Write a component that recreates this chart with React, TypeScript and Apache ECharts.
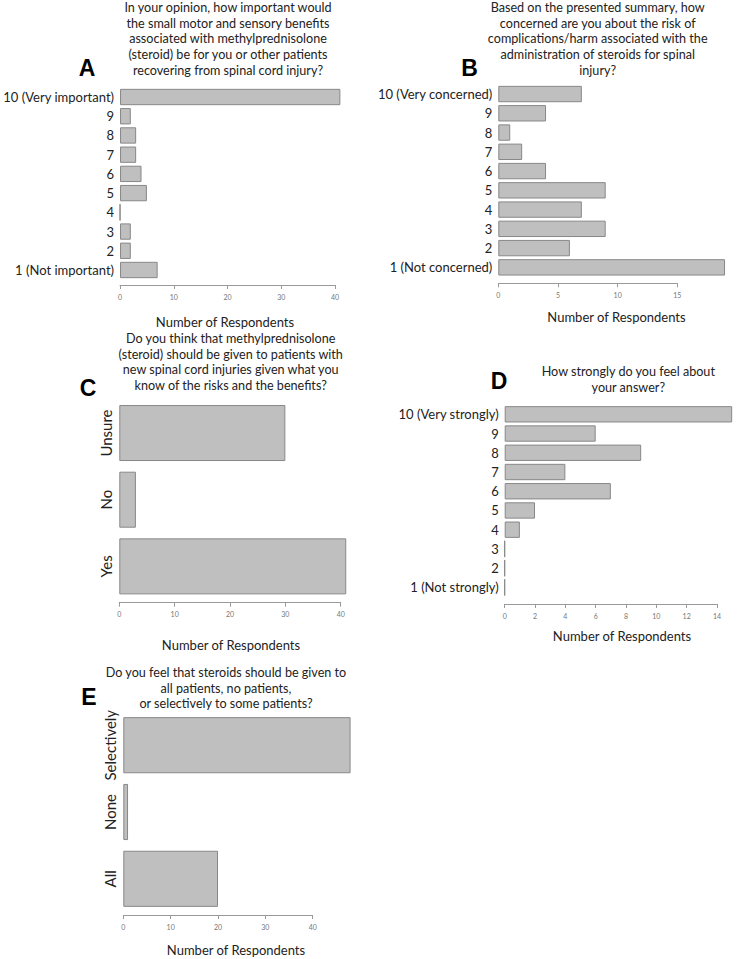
import React, { useEffect, useRef } from "react";
import * as echarts from "echarts";

// ---- Data ----
const scaleA = ["1 (Not important)", "2", "3", "4", "5", "6", "7", "8", "9", "10 (Very important)"];
const valuesA = [7, 2, 2, 0, 5, 4, 3, 3, 2, 41];

const scaleB = ["1 (Not concerned)", "2", "3", "4", "5", "6", "7", "8", "9", "10 (Very concerned)"];
const valuesB = [19, 6, 9, 7, 9, 4, 2, 1, 4, 7];

const catsC = ["Yes", "No", "Unsure"];
const valuesC = [41, 3, 30];

const scaleD = ["1 (Not strongly)", "2", "3", "4", "5", "6", "7", "8", "9", "10 (Very strongly)"];
const valuesD = [0, 0, 0, 1, 2, 7, 4, 9, 6, 15];

const catsE = ["All", "None", "Selectively"];
const valuesE = [20, 1, 48];

const axisMaxA = 40, axisStepA = 10;
const axisMaxB = 15, axisStepB = 5;
const axisMaxC = 40, axisStepC = 10;
const axisMaxD = 14, axisStepD = 2;
const axisMaxE = 40, axisStepE = 10;

const titleA = "In your opinion, how important would\nthe small motor and sensory benefits\nassociated with methylprednisolone\n(steroid) be for you or other patients\nrecovering from spinal cord injury?";
const titleB = "Based on the presented summary, how\nconcerned are you about the risk of\ncomplications/harm associated with the\nadministration of steroids for spinal\ninjury?";
const titleC = "Do you think that methylprednisolone\n(steroid) should be given to patients with\nnew spinal cord injuries given what you\nknow of the risks and the benefits?";
const titleD = "How strongly do you feel about\nyour answer?";
const titleE = "Do you feel that steroids should be given to\nall patients, no patients,\nor selectively to some patients?";
const xName = "Number of Respondents";

const FONT = "Lato";
const BAR_FILL = "#bfbfbf";
const BAR_EDGE = "#888888";
const AXIS_COL = "#9a9a9a";

export default function App() {
  const ref = useRef<HTMLDivElement>(null);
  useEffect(() => {
    if (!ref.current) return;
    const chart = echarts.init(ref.current, undefined, { renderer: "svg" });

    const panels = [
      { grid: { left: 114, top: 87.4, width: 221, height: 192.2 }, offset: 5.4, cats: scaleA, vals: valuesA, max: axisMaxA, step: axisStepA, rot: false, gap: "15%" },
      { grid: { left: 498.3, top: 84.4, width: 179, height: 192.6 }, offset: 6.3, cats: scaleB, vals: valuesB, max: axisMaxB, step: axisStepB, rot: false, gap: "15%" },
      { grid: { left: 119.3, top: 399.7, width: 221.4, height: 200 }, offset: 3, cats: catsC, vals: valuesC, max: axisMaxC, step: axisStepC, rot: true, gap: "16%" },
      { grid: { left: 504.7, top: 404.7, width: 212.3, height: 192.3 }, offset: 7, cats: scaleD, vals: valuesD, max: axisMaxD, step: axisStepD, rot: false, gap: "15%" },
      { grid: { left: 123.3, top: 711.8, width: 189.4, height: 200.4 }, offset: 2.8, cats: catsE, vals: valuesE, max: axisMaxE, step: axisStepE, rot: true, gap: "16%" },
    ];

    const titles = [
      { text: titleA, x: 228, y: 7.3 },
      { text: titleB, x: 597.7, y: 7.3 },
      { text: titleC, x: 230.7, y: 338.3 },
      { text: titleD, x: 628.3, y: 371.7 },
      { text: titleE, x: 226, y: 672.3 },
    ];
    const letters = [
      { t: "A", x: 87, y: 68 },
      { t: "B", x: 469.5, y: 67.5 },
      { t: "C", x: 88, y: 387.5 },
      { t: "D", x: 499, y: 381 },
      { t: "E", x: 89, y: 696.5 },
    ];
    const names = [
      { x: 225, y: 322 },
      { x: 616.5, y: 316.7 },
      { x: 231, y: 645 },
      { x: 622, y: 636 },
      { x: 236, y: 950 },
    ];
    const LH = 15.8;

    const graphic: any[] = [];
    titles.forEach((t) => {
      graphic.push({
        type: "text",
        x: t.x,
        y: t.y - LH / 2,
        style: { text: t.text, fill: "#222", font: `12.6px ${FONT}`, textAlign: "center", textVerticalAlign: "top", lineHeight: LH },
      });
    });
    letters.forEach((l) => {
      graphic.push({
        type: "text",
        x: l.x,
        y: l.y,
        style: { text: l.t, fill: "#000", font: `bold 23px 'Liberation Sans'`, textAlign: "center", textVerticalAlign: "middle" },
      });
    });
    names.forEach((n) => {
      graphic.push({
        type: "text",
        x: n.x,
        y: n.y,
        style: { text: xName, fill: "#222", font: `13px ${FONT}`, textAlign: "center", textVerticalAlign: "middle" },
      });
    });

    chart.setOption({
      animation: false,
      grid: panels.map((p) => ({ ...p.grid, containLabel: false })),
      xAxis: panels.map((p, i) => ({
        type: "value",
        gridIndex: i,
        min: 0,
        max: p.max,
        interval: p.step,
        offset: p.offset,
        axisLine: { show: true, lineStyle: { color: AXIS_COL, width: 1 } },
        axisTick: { show: true, length: 4, lineStyle: { color: AXIS_COL } },
        axisLabel: { fontSize: 7, color: "#777", margin: 8, fontFamily: FONT },
        splitLine: { show: false },
      })),
      yAxis: panels.map((p, i) => ({
        type: "category",
        gridIndex: i,
        data: p.cats,
        axisLine: { show: false },
        axisTick: { show: false },
        axisLabel: p.rot
          ? { interval: 0, hideOverlap: false, rotate: 90, fontSize: 15, color: "#222", margin: 6, fontFamily: FONT, align: "center", verticalAlign: "bottom" }
          : { interval: 0, fontSize: 13, color: "#222", margin: 6, fontFamily: FONT },
      })),
      series: panels.map((p, i) => ({
        type: "bar",
        xAxisIndex: i,
        yAxisIndex: i,
        data: p.vals,
        clip: false,
        barCategoryGap: p.gap,
        itemStyle: { color: BAR_FILL, borderColor: BAR_EDGE, borderWidth: 1 },
        silent: true,
      })),
      graphic,
    });
    return () => chart.dispose();
  }, []);
  return <div ref={ref} style={{ position: "absolute", left: 0, top: 0, width: 738, height: 959, background: "#fff" }} />;
}
